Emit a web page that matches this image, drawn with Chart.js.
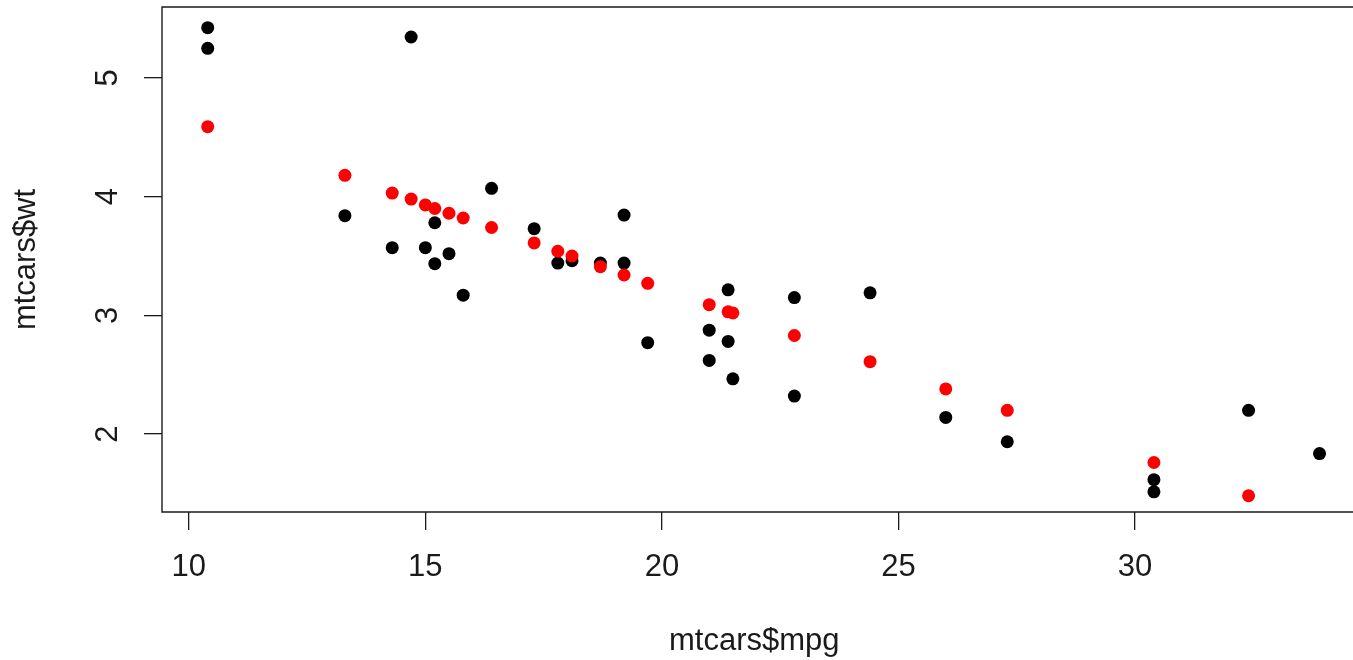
<!DOCTYPE html>
<html>
<head>
<meta charset="utf-8">
<script src="https://cdn.jsdelivr.net/npm/chart.js@4.4.1/dist/chart.umd.min.js"></script>
<style>
  html, body { margin: 0; padding: 0; background: #fff; overflow: hidden; }
</style>
</head>
<body>
<canvas id="plot" width="1353" height="660"></canvas>
<script>
// mtcars: mpg vs wt (black), fitted wt (red)
const mpg = [21.0, 21.0, 22.8, 21.4, 18.7, 18.1, 14.3, 24.4, 22.8, 19.2, 17.8, 16.4, 17.3, 15.2, 10.4, 10.4,
             14.7, 32.4, 30.4, 33.9, 21.5, 15.5, 15.2, 13.3, 19.2, 27.3, 26.0, 30.4, 15.8, 19.7, 15.0, 21.4];
const wt = [2.620, 2.875, 2.320, 3.215, 3.440, 3.460, 3.570, 3.190, 3.150, 3.440, 3.440, 4.070, 3.730, 3.780, 5.250, 5.424,
            5.345, 2.200, 1.615, 1.835, 2.465, 3.520, 3.435, 3.840, 3.845, 1.935, 2.140, 1.513, 3.170, 2.770, 3.570, 2.780];

const fitMpg = [10.4, 13.3, 14.3, 14.7, 15.0, 15.2, 15.5, 15.8, 16.4, 17.3, 17.8, 18.1,
                18.7, 19.2, 19.7, 21.0, 21.4, 21.5, 22.8, 24.4, 26.0, 27.3, 30.4, 32.4];
const fitWt = [4.59, 4.18, 4.03, 3.98, 3.93, 3.90, 3.86, 3.82, 3.74, 3.61, 3.54, 3.50,
               3.41, 3.34, 3.27, 3.09, 3.03, 3.02, 2.83, 2.61, 2.38, 2.20, 1.76, 1.48];

const xTicks = [10, 15, 20, 25, 30];
const yTicks = [2, 3, 4, 5];

const ink = '#1a1a1a';
const font = { family: '"Liberation Sans", Arial, sans-serif', size: 31 };

// plot frame like R's box(); right side falls off the picture
const boxPlugin = {
    id: 'box',
    afterDraw(chart) {
        const a = chart.chartArea;
        const ctx = chart.ctx;
        ctx.save();
        ctx.strokeStyle = ink;
        ctx.lineWidth = 1.4;
        ctx.beginPath();
        ctx.moveTo(chart.width, a.top);
        ctx.lineTo(a.left, a.top);
        ctx.lineTo(a.left, a.bottom);
        ctx.lineTo(chart.width, a.bottom);
        ctx.stroke();
        ctx.restore();
    }
};

new Chart(document.getElementById('plot'), {
    type: 'scatter',
    data: {
        datasets: [
            {
                label: 'mtcars$wt',
                data: mpg.map((m, i) => ({ x: m, y: wt[i] })),
                backgroundColor: '#000',
                borderColor: '#000',
                pointRadius: 6.5,
                borderWidth: 0,
                order: 2
            },
            {
                label: 'fitted',
                data: fitMpg.map((m, i) => ({ x: m, y: fitWt[i] })),
                backgroundColor: '#ff0000',
                borderColor: '#ff0000',
                pointRadius: 6.5,
                borderWidth: 0,
                order: 1
            }
        ]
    },
    options: {
        responsive: false,
        animation: false,
        devicePixelRatio: 1,
        layout: { padding: { top: 7, right: 0, left: 0, bottom: 0 } },
        plugins: {
            legend: { display: false },
            tooltip: { enabled: false }
        },
        scales: {
            x: {
                type: 'linear',
                min: 9.434,
                max: 34.47,
                afterBuildTicks: s => { s.ticks = xTicks.map(v => ({ value: v })); },
                afterFit: s => { s.height = 148; s.paddingLeft = 0; s.paddingRight = 0; },
                border: { display: false },
                grid: { drawOnChartArea: false, drawTicks: true, tickLength: 18, color: ink, lineWidth: 1.3 },
                ticks: { color: ink, font: font, padding: 19, maxRotation: 0 },
                title: { display: true, text: 'mtcars$mpg', color: ink, font: font, padding: { top: 0, bottom: 0 } }
            },
            y: {
                type: 'linear',
                min: 1.343,
                max: 5.598,
                afterBuildTicks: s => { s.ticks = yTicks.map(v => ({ value: v })); },
                afterFit: s => { s.width = 162; s.paddingTop = 0; s.paddingBottom = 0; },
                border: { display: false },
                grid: { drawOnChartArea: false, drawTicks: true, tickLength: 18, color: ink, lineWidth: 1.3 },
                ticks: { color: ink, font: font, padding: 27, minRotation: 90, maxRotation: 90, crossAlign: 'center' },
                title: { display: true, text: 'mtcars$wt', color: ink, font: font, padding: { top: 8, bottom: 0 } }
            }
        }
    },
    plugins: [boxPlugin]
});
</script>
</body>
</html>
